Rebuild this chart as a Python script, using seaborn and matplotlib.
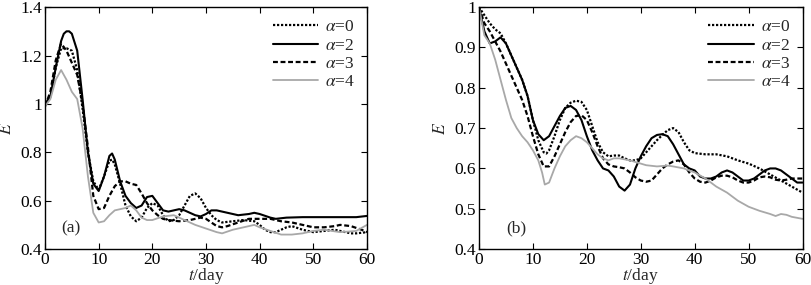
import numpy as np
import pandas as pd
import seaborn as sns
import matplotlib
matplotlib.use("Agg")
import matplotlib.pyplot as plt
from matplotlib.ticker import FuncFormatter

# ---- panel (a) ----
a_t_alpha0 = [0, 1, 2, 3, 4, 5, 6, 7, 8, 9, 10, 11, 12, 12.5, 13, 14, 15, 16, 17, 18, 19, 20, 21, 22, 23,
              24, 25, 26, 27, 28, 29, 30, 31, 32, 33, 35, 37, 39, 40, 41, 42, 43, 45, 46, 48, 50, 52, 54,
              56, 57, 58, 60]
a_E_alpha0 = [1.0, 1.03, 1.15, 1.23, 1.23, 1.22, 1.14, 0.98, 0.80, 0.68, 0.645, 0.70, 0.765, 0.77, 0.75,
              0.67, 0.58, 0.535, 0.515, 0.53, 0.57, 0.59, 0.58, 0.54, 0.515, 0.52, 0.54, 0.58, 0.62, 0.63,
              0.61, 0.57, 0.54, 0.52, 0.51, 0.515, 0.52, 0.515, 0.50, 0.48, 0.47, 0.47, 0.49, 0.495, 0.48,
              0.47, 0.475, 0.48, 0.47, 0.465, 0.465, 0.47]

a_t_alpha2 = [0, 1, 2, 3, 3.5, 4, 4.5, 5, 6, 7, 8, 9, 10, 11, 12, 12.5, 13, 14, 15, 16, 17, 18, 19, 20,
              21, 22, 23, 24, 25, 26, 27, 28, 29, 30, 31, 32, 34, 36, 38, 39, 40, 42, 43, 45, 48, 50,
              55, 58, 60]
a_E_alpha2 = [1.0, 1.03, 1.15, 1.26, 1.29, 1.30, 1.30, 1.29, 1.22, 1.02, 0.80, 0.67, 0.64, 0.70, 0.785,
              0.795, 0.77, 0.68, 0.62, 0.59, 0.57, 0.58, 0.615, 0.62, 0.59, 0.56, 0.555, 0.56, 0.565,
              0.56, 0.55, 0.54, 0.535, 0.545, 0.56, 0.56, 0.55, 0.54, 0.545, 0.55, 0.545, 0.53, 0.525,
              0.53, 0.532, 0.532, 0.532, 0.532, 0.537]

a_t_alpha3 = [0, 1, 2, 3, 4, 5, 6, 7, 8, 9, 10, 11, 12, 13, 14, 15, 16, 17, 18, 19, 20, 21, 22, 23, 25,
              27, 29, 30, 31, 32, 33, 34, 36, 38, 40, 42, 44, 46, 48, 50, 52, 54, 55, 57, 59, 60]
a_E_alpha3 = [0.99, 1.05, 1.18, 1.25, 1.22, 1.17, 1.12, 1.0, 0.82, 0.62, 0.565, 0.57, 0.62, 0.66, 0.68,
              0.68, 0.67, 0.665, 0.63, 0.59, 0.56, 0.54, 0.525, 0.52, 0.515, 0.52, 0.53, 0.525, 0.51,
              0.495, 0.49, 0.495, 0.51, 0.525, 0.525, 0.525, 0.515, 0.51, 0.50, 0.49, 0.49, 0.495,
              0.50, 0.495, 0.48, 0.47]

a_t_alpha4 = [0, 1, 2, 3, 4, 5, 6, 7, 8, 9, 10, 11, 12, 13, 14, 15, 16, 17, 18, 19, 20, 22, 24, 26, 28,
              30, 32, 33, 35, 37, 39, 40, 42, 44, 46, 48, 50, 52, 55, 58, 60]
a_E_alpha4 = [0.99, 1.02, 1.10, 1.14, 1.10, 1.05, 1.02, 0.90, 0.70, 0.55, 0.51, 0.515, 0.54, 0.56,
              0.565, 0.57, 0.58, 0.56, 0.53, 0.52, 0.52, 0.535, 0.54, 0.52, 0.50, 0.485, 0.47, 0.465,
              0.48, 0.49, 0.50, 0.49, 0.475, 0.46, 0.46, 0.465, 0.475, 0.48, 0.47, 0.475, 0.50]

# ---- panel (b) ----
b_t_alpha0 = [0, 1, 2, 3, 4, 5, 6, 7, 8, 9, 10, 11, 12, 12.5, 13, 14, 15, 16, 17, 18, 19, 20, 21, 22,
              23, 24, 25, 26, 27, 28, 29, 30, 31, 32, 33, 34, 35, 36, 37, 38, 39, 40, 42, 44, 46, 48,
              50, 52, 54, 56, 58, 60]
b_E_alpha0 = [1.0, 0.98, 0.96, 0.945, 0.935, 0.91, 0.88, 0.85, 0.82, 0.78, 0.72, 0.67, 0.64, 0.637,
              0.645, 0.68, 0.72, 0.75, 0.763, 0.768, 0.765, 0.745, 0.705, 0.665, 0.64, 0.63, 0.632,
              0.632, 0.625, 0.62, 0.62, 0.625, 0.64, 0.655, 0.67, 0.683, 0.695, 0.70, 0.69, 0.665,
              0.645, 0.638, 0.635, 0.635, 0.63, 0.62, 0.612, 0.60, 0.585, 0.57, 0.555, 0.54]

b_t_alpha2 = list(range(0, 61))
b_E_alpha2 = [1.0, 0.94, 0.91, 0.915, 0.925, 0.91, 0.88, 0.85, 0.82, 0.78, 0.72, 0.685, 0.67, 0.68,
              0.705, 0.73, 0.75, 0.755, 0.745, 0.72, 0.68, 0.645, 0.62, 0.60, 0.595, 0.58, 0.555,
              0.545, 0.56, 0.60, 0.63, 0.655, 0.675, 0.683, 0.685, 0.68, 0.66, 0.635, 0.61, 0.60,
              0.595, 0.58, 0.575, 0.575, 0.58, 0.59, 0.595, 0.59, 0.58, 0.57, 0.57, 0.575, 0.585,
              0.595, 0.60, 0.60, 0.595, 0.585, 0.575, 0.565, 0.565]

b_t_alpha3 = list(range(0, 61))
b_E_alpha3 = [1.0, 0.96, 0.94, 0.915, 0.89, 0.86, 0.83, 0.80, 0.77, 0.73, 0.68, 0.635, 0.605, 0.605,
              0.63, 0.66, 0.69, 0.715, 0.73, 0.732, 0.72, 0.69, 0.655, 0.625, 0.61, 0.605, 0.603,
              0.60, 0.59, 0.578, 0.57, 0.567, 0.57, 0.585, 0.60, 0.61, 0.617, 0.62, 0.61, 0.59,
              0.575, 0.567, 0.565, 0.57, 0.578, 0.582, 0.582, 0.578, 0.57, 0.565, 0.565, 0.57,
              0.578, 0.58, 0.578, 0.572, 0.57, 0.572, 0.575, 0.575, 0.575]

b_t_alpha4 = [0, 1, 2, 3, 4, 5, 6, 7, 8, 9, 10, 11, 11.7, 12.2, 13, 14, 15, 16, 17, 18, 19, 20, 21,
              22, 23, 24, 25, 26, 28, 30, 31, 33, 35, 36, 38, 40, 42, 44, 46, 48, 50, 52, 54, 55,
              56, 57, 58, 60]
b_E_alpha4 = [1.0, 0.93, 0.91, 0.87, 0.82, 0.77, 0.725, 0.70, 0.68, 0.665, 0.645, 0.62, 0.59, 0.56,
              0.565, 0.60, 0.63, 0.655, 0.67, 0.68, 0.675, 0.665, 0.65, 0.635, 0.625, 0.62, 0.625,
              0.625, 0.62, 0.612, 0.608, 0.605, 0.607, 0.605, 0.60, 0.59, 0.575, 0.555, 0.54, 0.52,
              0.505, 0.495, 0.487, 0.482, 0.487, 0.485, 0.48, 0.475]

labels = [r"$\alpha$=0", r"$\alpha$=2", r"$\alpha$=3", r"$\alpha$=4"]
styles = [
    dict(color="black", linestyle=(0, (1, 0.8)), linewidth=1.6),
    dict(color="black", linestyle="-", linewidth=1.5),
    dict(color="black", linestyle=(0, (2.2, 1.2)), linewidth=1.6),
    dict(color="#a8a8a8", linestyle="-", linewidth=1.3),
]

sns.set_theme(style="ticks")
plt.rcParams["font.family"] = ["Liberation Serif", "DejaVu Serif"]
plt.rcParams["mathtext.fontset"] = "stix"

fig = plt.figure(figsize=(8.11, 2.85), dpi=100)
ax_a = fig.add_axes([0.0555, 0.126, 0.397, 0.849])
ax_b = fig.add_axes([0.5906, 0.126, 0.399, 0.849])

panels = [
    (ax_a, [(a_t_alpha0, a_E_alpha0), (a_t_alpha2, a_E_alpha2), (a_t_alpha3, a_E_alpha3), (a_t_alpha4, a_E_alpha4)],
     (0.4, 1.4), np.arange(0.4, 1.41, 0.2), "(a)", (3.0, 0.485)),
    (ax_b, [(b_t_alpha0, b_E_alpha0), (b_t_alpha2, b_E_alpha2), (b_t_alpha3, b_E_alpha3), (b_t_alpha4, b_E_alpha4)],
     (0.4, 1.0), np.arange(0.4, 1.01, 0.1), "(b)", (5.0, 0.452)),
]

for ax, series, ylim, yticks, tag, tagpos in panels:
    for (t, e), lab, st in zip(series, labels, styles):
        df = pd.DataFrame({"t": t, "E": e})
        sns.lineplot(data=df, x="t", y="E", ax=ax, label=lab, **st)
    ax.set_xlim(0, 60)
    ax.set_ylim(*ylim)
    ax.set_xticks(np.arange(0, 61, 10))
    ax.set_yticks(yticks)
    ax.yaxis.set_major_formatter(FuncFormatter(lambda v, p: f"{round(v, 2):g}"))
    ax.tick_params(axis="both", which="major", direction="in", length=4, width=0.8,
                   top=True, right=True, labelsize=12.5, pad=2, colors="black")
    for sp in ax.spines.values():
        sp.set_visible(True)
        sp.set_linewidth(1.0)
        sp.set_color("black")
    ax.set_xlabel(r"$t$/day", fontsize=12.5, labelpad=-1)
    ax.set_ylabel(r"$E$", fontsize=12.5, labelpad=4)
    ax.text(tagpos[0], tagpos[1], tag, fontsize=12.5, va="center", ha="left")
    ax.legend(loc="upper right", frameon=False, fontsize=12.5, handlelength=2.6,
              handletextpad=0.4, labelspacing=0.12, borderaxespad=0.3)

fig.savefig("out.png", dpi=100)
